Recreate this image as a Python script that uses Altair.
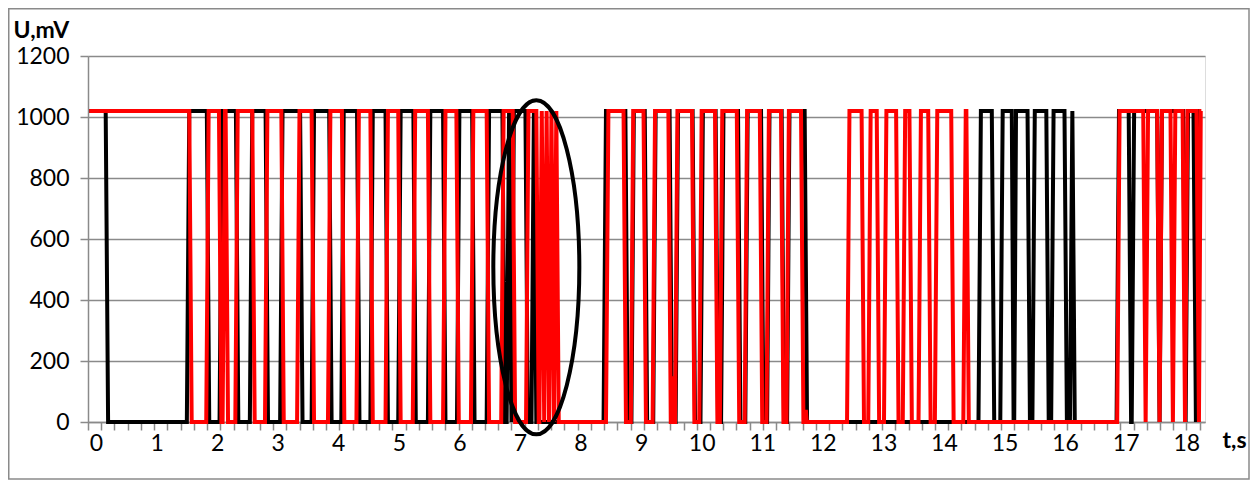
import altair as alt
import pandas as pd
import numpy as np

# ---- data ----
HIGH = 1020          # mV, level of a "1"
T_START, T_END = -0.11, 18.24
RAMP = 0.04          # s, duration of each edge

# times (s) at which each signal toggles (both start high)
black_edges = [0.16, 1.50, 1.83, 2.04, 2.31, 2.54, 2.80, 3.04, 3.37, 3.56, 3.85, 4.05,
               4.31, 4.53, 4.78, 4.99, 5.24, 5.48, 5.73, 5.96, 6.21, 6.45, 6.71, 6.78,
               6.82, 6.86, 7.09, 7.19, 7.23,
               8.38, 8.74, 8.84, 9.06, 9.20, 9.47, 9.57, 9.85, 9.98, 10.23, 10.32, 10.60,
               10.72, 10.98, 11.08, 11.32, 11.41, 11.70,
               14.57, 14.79, 14.93, 15.12, 15.15, 15.38, 15.46, 15.69, 15.77, 15.99,
               16.08, 16.12,
               16.85, 17.05, 17.10, 17.52, 17.56, 17.95, 17.99, 18.12, 18.16]
red_edges = [1.54, 1.82, 2.03, 2.09, 2.14, 2.30, 2.58, 2.79, 3.06, 3.32, 3.56, 3.83,
             4.06, 4.30, 4.53, 4.78, 4.99, 5.23, 5.48, 5.73, 5.95, 6.19, 6.45, 6.69,
             6.88, 7.10, 7.27, 7.32, 7.36, 7.40, 7.44, 7.48, 7.52, 7.56, 7.60,
             8.42, 8.71, 8.83, 9.04, 9.19, 9.45, 9.56, 9.84, 9.96, 10.22, 10.30, 10.58,
             10.71, 10.96, 11.07, 11.31, 11.40, 11.64,
             12.40, 12.64, 12.75, 12.89, 13.01, 13.21, 13.32, 13.43, 13.58, 13.74,
             13.85, 14.12, 14.32, 14.37,
             16.86, 17.29, 17.33, 17.52, 17.56, 17.74, 17.78, 17.94, 17.98, 18.17, 18.21]
# small glitches while low
red_spike_t = [9.52, 11.72]
red_spike_u = [150, 40]
black_spike_t = []
black_spike_u = []

# highlighted region (ellipse centre)
ellipse_t = [7.27]
ellipse_u = [507]

x_labels = list(range(0, 19))
y_ticks = [0, 200, 400, 600, 800, 1000, 1200]


def build(edges, sp_t, sp_u):
    pts = [(T_START, HIGH)]
    level = HIGH
    for e in edges:
        pts.append((e, level))
        level = 0 if level else HIGH
        pts.append((e + RAMP, level))
    for t, u in zip(sp_t, sp_u):
        pts += [(t - 0.015, 0), (t, u), (t + 0.015, 0)]
    pts.append((T_END, level))
    pts.sort(key=lambda p: p[0])
    df = pd.DataFrame(pts, columns=["t", "u"])
    df["i"] = range(len(df))
    return df


black_df = build(black_edges, black_spike_t, black_spike_u)
red_df = build(red_edges, red_spike_t, red_spike_u)
ell_df = pd.DataFrame({"t": ellipse_t, "u": ellipse_u})

X_DOMAIN = [-0.132, 18.31]
minor_ticks = [round(v, 3) for v in np.arange(X_DOMAIN[0], X_DOMAIN[1], 0.2185)]

FONT = "Lato"
GRID = "#8a8a8a"
W, H = 1117, 366

xscale = alt.Scale(domain=X_DOMAIN, nice=False, zero=False)
yscale = alt.Scale(domain=[0, 1200], nice=False)

y_axis = alt.Axis(values=y_ticks, format="d", grid=True, gridColor=GRID, gridWidth=1.5,
                  domainColor=GRID, domainWidth=1.5, tickColor=GRID,
                  tickWidth=1.5, tickSize=8, labelPadding=11,
                  labelFont=FONT, labelFontSize=23, labelColor="black",
                  title="U,mV", titleFont=FONT, titleFontSize=23,
                  titleFontWeight="bold", titleColor="black", titleAngle=0,
                  titleAlign="left", titleBaseline="alphabetic",
                  titleX=-75, titleY=-19)


def y_enc():
    return alt.Y("u:Q", scale=yscale, axis=y_axis)


black = alt.Chart(black_df).mark_line(color="black", strokeWidth=4, clip=False).encode(
    x=alt.X("t:Q", scale=xscale,
            axis=alt.Axis(orient="bottom", values=x_labels, format="d", ticks=False,
                          grid=False, domainColor=GRID, domainWidth=1.5,
                          labelFont=FONT, labelFontSize=23, labelColor="black",
                          labelPadding=10, labelFlush=False, labelOverlap=False,
                          title="t,s", titleFont=FONT, titleFontSize=23,
                          titleFontWeight="bold", titleColor="black",
                          titleAngle=0, titleAlign="left", titleBaseline="alphabetic",
                          titleX=1134, titleY=25)),
    y=y_enc(),
    order="i:Q",
)

red = alt.Chart(red_df).mark_line(color="#ff0000", strokeWidth=4, clip=False).encode(
    x=alt.X("t:Q", scale=xscale, axis=None),
    y=y_enc(),
    order="i:Q",
)

ellipse_path = "M -0.2575 0 A 0.2575 1 0 1 1 0.2575 0 A 0.2575 1 0 1 1 -0.2575 0 Z"
ellipse = alt.Chart(ell_df).mark_point(
    shape=ellipse_path, size=334 * 334, filled=False, stroke="black",
    strokeWidth=4, opacity=1).encode(
    x=alt.X("t:Q", scale=xscale,
            axis=alt.Axis(orient="bottom", values=minor_ticks, labels=False,
                          ticks=True, tickSize=8, tickColor=GRID, tickWidth=1.5,
                          domain=False, grid=False, title=None)),
    y=y_enc(),
)

border = alt.Chart(ell_df).mark_rect(fill="transparent", stroke=GRID, strokeWidth=1.5).encode(
    x=alt.value(-79.25), x2=alt.value(W + 44), y=alt.value(-47.25), y2=alt.value(H + 57))

chart = alt.layer(black, red, ellipse, border).resolve_axis(x="independent").properties(
    width=W, height=H,
    autosize=alt.AutoSizeParams(type="none"),
    padding={"left": 80, "top": 48, "right": 45, "bottom": 58},
).configure_view(stroke=None).configure(background="white")

chart.save("out.html", embed_options={"renderer": "svg", "actions": False})
